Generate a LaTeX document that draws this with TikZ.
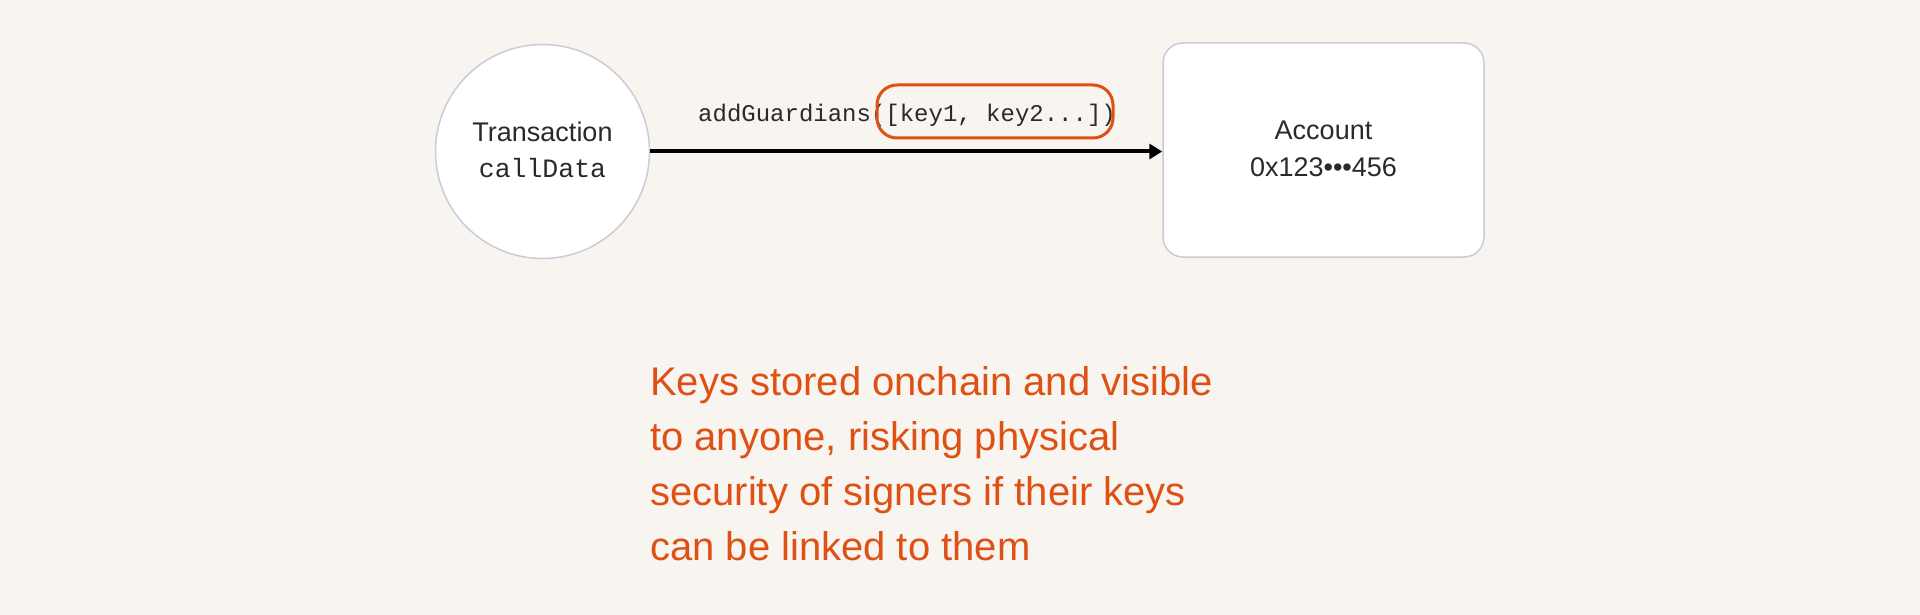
\documentclass[tikz,border=0pt]{standalone}
\usepackage{fontspec}
\setmainfont{Liberation Sans}
\setmonofont{Liberation Mono}
\usetikzlibrary{arrows.meta}
\definecolor{bg}{HTML}{F8F4EF}
\definecolor{orng}{HTML}{DE5014}
\definecolor{edgec}{HTML}{CDCBD3}
\definecolor{ink}{HTML}{2A2A2A}
\tikzset{
  shapebox/.style={draw=edgec, fill=white, line width=1.5pt, inner sep=0pt},
  sanslabel/.style={anchor=base, text=ink, inner sep=0pt, font=\fontsize{27}{32}\selectfont},
  monolabel/.style={anchor=base, text=ink, inner sep=0pt, font=\ttfamily\fontsize{26.5}{32}\selectfont},
  flowarrow/.style={line width=4pt, draw=black, -{Triangle[length=13pt,width=15pt]}},
  highlight/.style={draw=orng, line width=3pt, rounded corners=20pt, inner sep=0pt}
}
\begin{document}
\begin{tikzpicture}[x=1pt,y=-1pt]
\fill[bg] (0,0) rectangle (1920,615);
\useasboundingbox (0,0) rectangle (1920,615);

\node[shapebox, circle, minimum size=214pt] (tx) at (542.5,151.5) {};
\node[shapebox, rectangle, rounded corners=20pt, minimum width=321pt, minimum height=214pt] (acct) at (1323.5,150) {};

\node[sanslabel] (txname) at (542.5,142) {Transaction};
\node[monolabel] (txdata) at (542.5,178) {callData};
\node[sanslabel] (acname) at (1323.5,140) {Account};
\node[sanslabel] (acaddr) at (1323.5,177) {0x123•••456};

\draw[flowarrow] (tx.east) -- (tx.east -| acct.west);

\node[anchor=base west, inner sep=0pt, text=ink, font=\ttfamily\fontsize{24}{30}\selectfont] (call) at (698,122) {addGuardians([key1, key2...])};
\node[highlight, minimum width=236pt, minimum height=53pt] (hl) at (995,111.5) {};

\node[anchor=base west, align=left, inner sep=0pt, text=orng, font=\fontsize{40}{55}\selectfont] (note) at (650,560) {Keys stored onchain and visible\\to anyone, risking physical\\security of signers if their keys\\can be linked to them};
\end{tikzpicture}
\end{document}
